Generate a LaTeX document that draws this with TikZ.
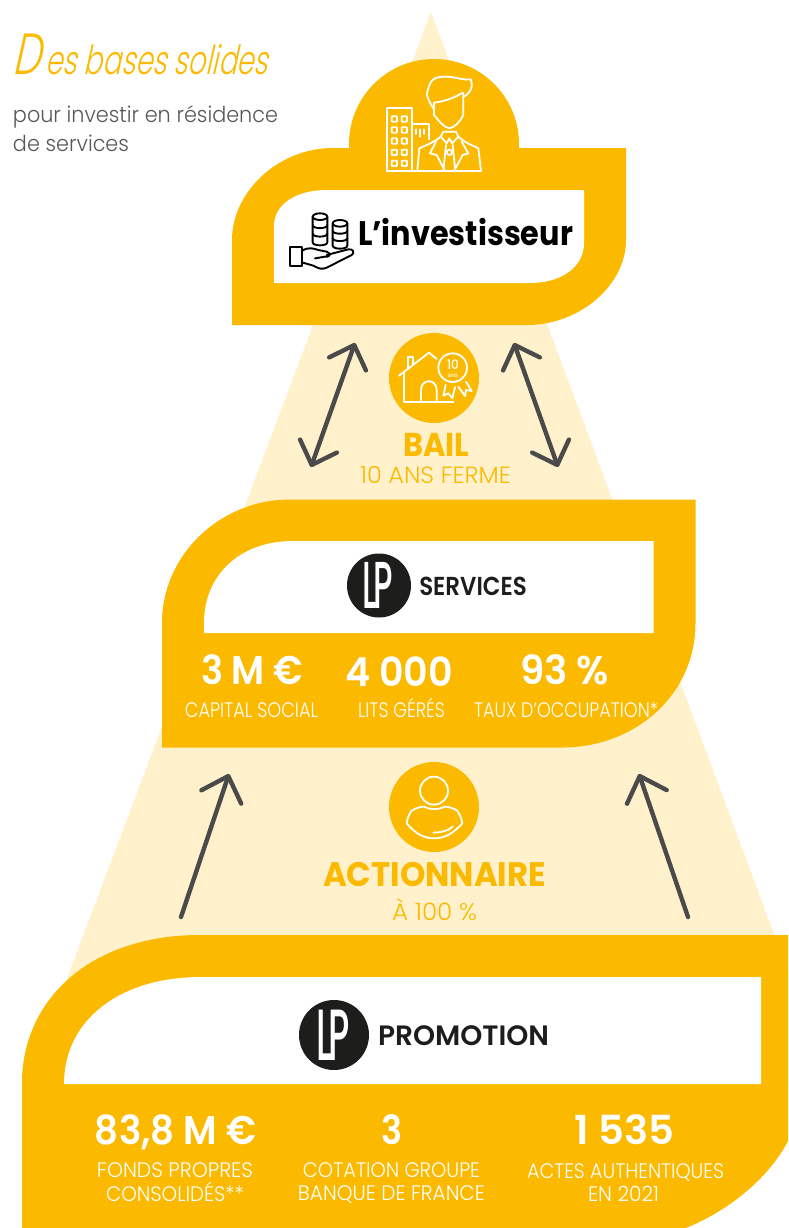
\documentclass[tikz,border=0pt]{standalone}
\usepackage{graphicx}
\usepackage{fontspec}
\usetikzlibrary{arrows.meta}
\setmainfont{Poppins}
\newfontfamily\fLight{Poppins Light}
\newfontfamily\fMed{Poppins Medium}
\newfontfamily\fSemi{Poppins SemiBold}
\newfontfamily\fBold{Poppins Bold}
\newfontfamily\fScript[FakeSlant=0.32]{Poppins Light}
\newcommand\fz[1]{\fontsize{#1}{#1}\selectfont}
\definecolor{gold}{HTML}{FBBA00}
\definecolor{cream}{HTML}{FFF1CC}
\definecolor{arrowgrey}{HTML}{4A4A4A}
\definecolor{ink}{HTML}{1D1D1B}
\definecolor{greytext}{HTML}{575756}
% #1 name, #2 centre x, #3 baseline y, #4 width, #5 font, #6 text, #7 colour
\newcommand\lab[7]{\node[anchor=base,inner sep=0pt,text=#7] (#1) at (#2,#3) {\resizebox{#4pt}{\height}{#5#6}};}
\newcommand\lp[4]{%
 \node[circle,fill=ink,minimum size=#4pt,inner sep=0pt] (#1) at (#2,#3) {};
 \node[inner sep=0pt,text=white] (#1t) at (#2-1,#3) {\resizebox{0.47\dimexpr#4pt\relax}{0.72\dimexpr#4pt\relax}{\fMed L\kern-.12em P}};
}
\tikzset{
 dbl/.style={draw=arrowgrey,line width=4.4pt,line cap=round,{Straight Barb[length=20pt,width=39pt,round]}-{Straight Barb[length=20pt,width=39pt,round]}},
 sgl/.style={draw=arrowgrey,line width=4.4pt,line cap=round,-{Straight Barb[length=22pt,width=42pt,round]}},
 badge/.style={circle,fill=gold,minimum size=90pt,inner sep=0pt},
 ico/.style={draw=white,line width=1.8pt,line join=round,line cap=round},
 blk/.style={draw=black,line width=1.9pt,line join=round,line cap=round},
}
\begin{document}
\begin{tikzpicture}[x=1pt,y=-1pt]
\useasboundingbox (0,0) rectangle (788,1228);
\clip (0,0) rectangle (788,1228);
% background triangle
\fill[cream] (431,12) -- (832,1090) -- (25,1090) -- cycle;
% investor block
\fill[gold] (434,144) circle[radius=85pt];
\fill[gold] (232,325) -- (232,240) .. controls (232,192) and (278,148) .. (333,148) -- (626,148) -- (626,240) .. controls (626,285) and (580,325) .. (527,325) -- cycle;
\fill[white] (274,283) -- (274,226) .. controls (274,205) and (295,190) .. (327,190) -- (584,190) -- (584,243) .. controls (584,268) and (560,283) .. (530,283) -- cycle;
% services block
\fill[gold] (162,747.5) -- (162,623) .. controls (162,555) and (220,499.5) .. (290,499.5) -- (695.5,499.5) -- (695.5,623) .. controls (695.5,695) and (635,747.5) .. (562,747.5) -- cycle;
\fill[white] (204,633) -- (204,623) .. controls (204,575) and (240,541) .. (293,541) -- (653.5,541) -- (653.5,633) -- cycle;
% promotion block
\fill[gold] (22,1240) -- (22,1083) .. controls (22,1000) and (90,935) .. (200,935) -- (800,935) -- (800,1095) .. controls (800,1170) and (700,1240) .. (630,1240) -- cycle;
\fill[white] (64,1084) .. controls (64,1020) and (120,977) .. (201,977) -- (761,977) -- (761,1084) -- cycle;
% arrows
\coordinate (a1s) at (311,467); \coordinate (a1e) at (355,343);
\coordinate (a2s) at (558,467); \coordinate (a2e) at (514,343);
\coordinate (a3s) at (181,917); \coordinate (a3e) at (229,774);
\coordinate (a4s) at (688,917); \coordinate (a4e) at (639,774);
\draw[dbl] (a1s) -- (a1e);
\draw[dbl] (a2s) -- (a2e);
\draw[sgl] (a3s) -- (a3e);
\draw[sgl] (a4s) -- (a4e);
% title
\lab{title}{140.5}{75}{255}{\fScript\fz{40}}{{\fz{58}D}\kern6pt es bases solides}{gold}
\lab{sub1}{145.5}{123}{265}{\fLight\fz{22}}{pour investir en résidence}{greytext}
\lab{sub2}{71}{152}{116}{\fLight\fz{22}}{de services}{greytext}
% investor icon
\begin{scope}[shift={(380,70)},scale=1/3]
\draw[ico] (20,303) rectangle (97,113);
\draw[ico] (97,163) -- (147,163) -- (147,208);
\foreach \y in {147,180,213,247,280}{\foreach \x in {43,73}{\draw[ico,rounded corners=0.6pt] (\x-8,\y-8) rectangle (\x+8,\y+8);}}
\draw[ico] (107,178) -- (107,192) (120,178) -- (120,200) (132,178) -- (132,192);
\draw[ico] (20,303) -- (303,303);
\draw[ico] (160,115) .. controls (150,100) and (143,85) .. (140,72) .. controls (150,40) and (150,22) .. (190,20) .. controls (220,18) and (250,32) .. (272,28) .. controls (280,50) and (275,65) .. (252,80);
\draw[ico] (162,98) .. controls (190,95) and (220,85) .. (248,68);
\draw[ico] (162,98) -- (162,135) .. controls (175,150) and (190,172) .. (208,175) .. controls (225,172) and (240,155) .. (250,135) -- (250,70);
\draw[ico] (112,303) -- (118,235) .. controls (140,225) and (165,215) .. (182,200);
\draw[ico] (303,303) -- (295,235) .. controls (275,225) and (250,215) .. (235,200);
\draw[ico] (182,200) -- (190,185) -- (228,185) -- (235,200);
\draw[ico] (182,200) -- (200,220) -- (208,205) -- (216,220) -- (235,200);
\draw[ico] (168,215) -- (150,250) -- (170,255) -- (195,303);
\draw[ico] (245,215) -- (265,250) -- (248,255) -- (222,303);
\draw[ico] (198,225) -- (190,303) (218,225) -- (226,303);
\draw[ico] (208,247) circle[radius=8pt];
\end{scope}
% hand with coins
\begin{scope}[shift={(285,205)},scale=1/3]
\draw[blk] (15,125) rectangle (50,182);
\draw[blk] (50,138) .. controls (70,125) and (85,130) .. (100,135) -- (125,140) .. controls (140,145) and (135,158) .. (120,155) -- (90,160);
\draw[blk] (125,150) -- (190,133) .. controls (205,130) and (210,145) .. (200,150) -- (125,188) .. controls (110,195) and (100,190) .. (85,182) -- (50,172);
\foreach \cx/\top/\bot in {105/35/112,165/55/122}{
 \draw[blk,fill=white] (\cx-22,\top) -- (\cx-22,\bot) .. controls (\cx-22,\bot+12) and (\cx+22,\bot+12) .. (\cx+22,\bot) -- (\cx+22,\top);
 \draw[blk] (\cx,\top) ellipse[x radius=22pt,y radius=10pt];
 \foreach \f in {0.33,0.66}{
  \draw[blk] (\cx-22,{\top+\f*(\bot-\top)}) .. controls (\cx-22,{\top+\f*(\bot-\top)+12}) and (\cx+22,{\top+\f*(\bot-\top)+12}) .. (\cx+22,{\top+\f*(\bot-\top)});
 }
}
\end{scope}
\lab{inv}{465.5}{245}{215}{\fBold\fz{34}}{L’investisseur}{black}
% bail
\node[badge] (bailc) at (434,378) {};
\begin{scope}[shift={(280,330)},scale=1/3]
\draw[ico] (357,137) -- (447,68) -- (470,87);
\draw[ico] (383,117) -- (383,80) -- (400,80) -- (400,103);
\draw[ico] (373,125) -- (373,216) -- (520,216);
\draw[ico] (423,216) -- (423,180) .. controls (423,145) and (470,145) .. (470,180) -- (470,216);
\draw[ico] (518,113) circle[radius=43pt];
\draw[ico] (497,165) -- (490,197) -- (505,190) -- (517,205) -- (525,172);
\draw[ico] (535,170) -- (555,198) -- (558,180) -- (575,183) -- (558,155);
\end{scope}
\node[inner sep=0pt,text=white,anchor=base] (ten) at (453,369.5) {\resizebox{12pt}{\height}{\fMed\fz{13}10}};
\node[inner sep=0pt,text=white,anchor=base] (ans) at (453,377) {\fMed\fz{5}ANS};
\lab{bail}{436}{456}{66}{\fBold\fz{33}}{BAIL}{gold}
\lab{bailsub}{435.5}{483}{151}{\fLight\fz{23.5}}{10 ANS FERME}{gold}
% services
\lp{lps}{379}{585.5}{64}
\lab{serv}{473}{595}{107.5}{\fSemi\fz{26}}{SERVICES}{ink}
\lab{s1}{252}{684}{102}{\fSemi\fz{40}}{3 M €}{white}
\lab{s2}{399}{686}{108}{\fSemi\fz{40}}{4 000}{white}
\lab{s3}{564.5}{684}{89}{\fSemi\fz{40}}{93 \%}{white}
\lab{s1b}{251.5}{717}{133}{\fLight\fz{21}}{CAPITAL SOCIAL}{white}
\lab{s2b}{401.5}{717}{87}{\fLight\fz{21}}{LITS GÉRÉS}{white}
\lab{s3b}{566}{717}{184}{\fLight\fz{21}}{TAUX D’OCCUPATION*}{white}
% actionnaire
\node[badge] (actc) at (434,807) {};
\begin{scope}[shift={(300,750)},scale=1/3]
\draw[ico] (402,122) circle[radius=42pt];
\draw[ico] (320,220) .. controls (322,205) and (328,190) .. (335,182) .. controls (350,172) and (365,170) .. (372,170) .. controls (390,180) and (415,180) .. (435,170) .. controls (445,170) and (460,175) .. (472,182) .. controls (480,195) and (485,208) .. (487,220) .. controls (460,250) and (435,265) .. (402,265) .. controls (370,265) and (345,250) .. (320,220) -- cycle;
\draw[ico] (400,248) .. controls (420,248) and (445,243) .. (458,230);
\fill[white] (468,218) circle[radius=1.3pt];
\end{scope}
\lab{act}{434.5}{886}{223}{\fBold\fz{34}}{ACTIONNAIRE}{gold}
\lab{actsub}{434.5}{920}{85}{\fLight\fz{24}}{À 100 \%}{gold}
% promotion
\lp{lpp}{334}{1035}{70}
\lab{prom}{463.5}{1045}{171}{\fSemi\fz{28}}{PROMOTION}{ink}
\lab{p1}{175.5}{1144}{161}{\fSemi\fz{40}}{83,8 M €}{white}
\lab{p2}{392}{1144}{21}{\fSemi\fz{40}}{3}{white}
\lab{p3}{624}{1144}{100}{\fSemi\fz{40}}{1 535}{white}
\lab{p1b}{175}{1177}{156}{\fLight\fz{21}}{FONDS PROPRES}{white}
\lab{p1c}{175}{1201}{138}{\fLight\fz{21}}{CONSOLIDÉS**}{white}
\lab{p2b}{391.5}{1177}{177}{\fLight\fz{21}}{COTATION GROUPE}{white}
\lab{p2c}{391.5}{1200}{187}{\fLight\fz{21}}{BANQUE DE FRANCE}{white}
\lab{p3b}{625.5}{1178}{197}{\fLight\fz{21}}{ACTES AUTHENTIQUES}{white}
\lab{p3c}{623.5}{1201}{71}{\fLight\fz{21}}{EN 2021}{white}
\end{tikzpicture}
\end{document}
